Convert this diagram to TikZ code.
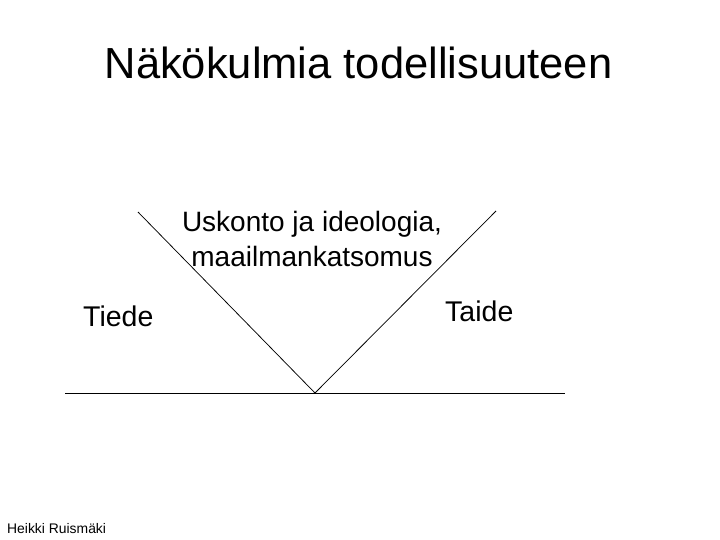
\documentclass[tikz,border=0pt]{standalone}
\usepackage{fontspec}
\setmainfont{Liberation Sans}
\tikzset{
  lbl/.style={inner sep=0pt, anchor=base west, font=\fontsize{28.5}{32}\selectfont},
  ln/.style={draw=black, line width=0.75pt}
}
\begin{document}
\begin{tikzpicture}[x=1pt,y=-1pt]
\useasboundingbox (0,0) rectangle (720,540);
\node[inner sep=0pt, anchor=base, font=\fontsize{43.5}{48}\selectfont] (title) at (358.5,79) {Näkökulmia todellisuuteen};
\node[lbl, anchor=base, font=\fontsize{28}{32}\selectfont] (usk1) at (312,231) {Uskonto ja ideologia,};
\node[lbl, anchor=base, font=\fontsize{28}{32}\selectfont] (usk2) at (312,266) {maailmankatsomus};
\node[lbl] (tiede) at (83,326) {Tiede};
\node[lbl] (taide) at (445,321) {Taide};
\node[inner sep=0pt, anchor=base west, font=\fontsize{13.9}{16}\selectfont] (author) at (7,533) {Heikki Ruismäki};
\coordinate (hl) at (65,393);
\coordinate (hr) at (565,393);
\coordinate (v) at (315,393);
\coordinate (vl) at (138,212);
\coordinate (vr) at (496,211);
\draw[ln] (hl) -- (hr);
\draw[ln] (vl) -- (v) -- (vr);
\end{tikzpicture}
\end{document}
